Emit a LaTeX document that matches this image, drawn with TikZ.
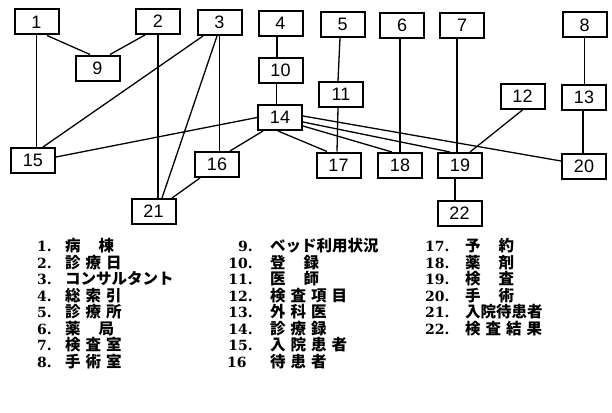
\documentclass[tikz,border=0pt]{standalone}
\usepackage{fontspec}
\setmainfont{Liberation Sans}
\newfontfamily\jp{Noto Sans CJK JP}
\newfontfamily\numf{DejaVu Serif}
\usetikzlibrary{calc}
\newcommand{\gw}{\kern18pt}
\newcommand{\gn}{\kern5pt}
\begin{document}
\begin{tikzpicture}[x=1pt,y=-1pt,
  box/.style={draw,line width=2pt,minimum width=44pt,minimum height=25pt,inner sep=0pt,font=\fontsize{18}{18}\selectfont},
  conn/.style={line width=1.3pt},
  num/.style={inner sep=0pt,font=\numf\bfseries\fontsize{14}{14}\selectfont},
  lab/.style={inner sep=0pt,anchor=base west,font=\jp\bfseries\fontsize{15.5}{15.5}\selectfont}]
\useasboundingbox (0,0) rectangle (612,412);
% boxes
\node[box] (n1) at (36.5,22) {1};
\node[box] (n2) at (158,21.5) {2};
\node[box] (n3) at (219.5,22.5) {3};
\node[box] (n4) at (280.5,23.5) {4};
\node[box] (n5) at (342.5,24.5) {5};
\node[box] (n6) at (402,25.5) {6};
\node[box] (n7) at (462,25.5) {7};
\node[box] (n8) at (584.5,25) {8};
\node[box] (n9) at (97.5,68) {9};
\node[box] (n10) at (280.5,70.5) {10};
\node[box] (n11) at (341,94.5) {11};
\node[box] (n12) at (522.5,96.5) {12};
\node[box] (n13) at (584,97) {13};
\node[box] (n14) at (280,117.5) {14};
\node[box] (n15) at (33,160.5) {15};
\node[box] (n16) at (217,164.5) {16};
\node[box] (n17) at (338.5,165) {17};
\node[box] (n18) at (400,165.5) {18};
\node[box] (n19) at (460,165.5) {19};
\node[box] (n20) at (584,166.5) {20};
\node[box] (n21) at (153.5,211.5) {21};
\node[box] (n22) at (459.5,213) {22};
% connectors
\draw[conn] (n1.south) -- (n1.south |- n15.north);
\draw[conn] ($(n1.south)+(10.5,0)$) -- ($(n9.north)+(-7.5,0)$);
\draw[conn] ($(n2.south)+(-13,0)$) -- ($(n9.north)+(12.5,0)$);
\draw[conn] (n2.south) -- (n2.south |- n21.north);
\draw[conn] ($(n3.south)+(-16.5,0)$) -- ($(n15.north)+(10,0)$);
\draw[conn] ($(n3.south)+(-2.5,0)$) -- ($(n21.north)+(8.5,0)$);
\draw[conn] (n3.south) -- (n3.south |- n16.north);
\draw[conn] ($(n16.south)+(-17,0)$) -- ($(n21.north)+(18.5,0)$);
\draw[conn] ($(n14.south)+(-17,0)$) -- ($(n16.north)+(13,0)$);
\draw[conn] (n14.west) -- ($(n15.east)+(0,-3.5)$);
\draw[conn] ($(n14.south)+(-2,0)$) -- ($(n17.north)+(-11.5,0)$);
\draw[conn] ($(n14.east)+(0,8.5)$) -- ($(n18.north)+(-8,0)$);
\draw[conn] ($(n14.east)+(0,4.5)$) -- ($(n19.north)+(-10,0)$);
\draw[conn] ($(n14.east)+(0,-1.5)$) -- ($(n20.west)+(0,-5.5)$);
\draw[conn] ($(n4.south)+(-3.5,0)$) -- ($(n10.north)+(-3.5,0)$);
\draw[conn] ($(n10.south)+(-4,0)$) -- ($(n14.north)+(-3.5,0)$);
\draw[conn] ($(n5.south)+(-2.5,0)$) -- ($(n11.north)+(-3,0)$);
\draw[conn] ($(n11.south)+(-3,0)$) -- ($(n17.north)+(-1.5,0)$);
\draw[conn] (n18.north |- n6.south) -- (n18.north);
\draw[conn] ($(n19.north)+(-3,0)$) -- ($(n7.south)+(-5,0)$);
\draw[conn] (n12.south) -- ($(n19.north)+(10,0)$);
\draw[conn] (n8.south) -- (n8.south |- n13.north);
\draw[conn] ($(n13.south)+(-1,0)$) -- ($(n20.north)+(-1,0)$);
\draw[conn] ($(n19.south)+(-5,0)$) -- ($(n22.north)+(-4.5,0)$);
% legend column 1
\node[num,anchor=base west] (k1) at (37,251.5) {1.};
\node[lab] (t1) at (65,251.5) {病\gw 棟};
\node[num,anchor=base west] (k2) at (37,268) {2.};
\node[lab] (t2) at (65,268) {診\gn 療\gn 日};
\node[num,anchor=base west] (k3) at (37,284.5) {3.};
\node[lab] (t3) at (65,284.5) {コンサルタント};
\node[num,anchor=base west] (k4) at (37,301) {4.};
\node[lab] (t4) at (65,301) {総\gn 索\gn 引};
\node[num,anchor=base west] (k5) at (37,317.5) {5.};
\node[lab] (t5) at (65,317.5) {診\gn 療\gn 所};
\node[num,anchor=base west] (k6) at (37,334) {6.};
\node[lab] (t6) at (65,334) {薬\gw 局};
\node[num,anchor=base west] (k7) at (37,350.5) {7.};
\node[lab] (t7) at (65,350.5) {検\gn 査\gn 室};
\node[num,anchor=base west] (k8) at (37,367) {8.};
\node[lab] (t8) at (65,367) {手\gn 術\gn 室};
% legend column 2
\node[num,anchor=base east] (k9) at (253,251.5) {9.};
\node[lab] (t9) at (270,251.5) {ベッド利用状況};
\node[num,anchor=base east] (k10) at (253,268) {10.};
\node[lab] (t10) at (270,268) {登\gw 録};
\node[num,anchor=base east] (k11) at (253,284.5) {11.};
\node[lab] (t11) at (270,284.5) {医\gw 師};
\node[num,anchor=base east] (k12) at (253,301) {12.};
\node[lab] (t12) at (270,301) {検\gn 査\gn 項\gn 目};
\node[num,anchor=base east] (k13) at (253,317.5) {13.};
\node[lab] (t13) at (270,317.5) {外\gn 科\gn 医};
\node[num,anchor=base east] (k14) at (253,334) {14.};
\node[lab] (t14) at (270,334) {診\gn 療\gn 録};
\node[num,anchor=base east] (k15) at (253,350.5) {15.};
\node[lab] (t15) at (270,350.5) {入\gn 院\gn 患\gn 者};
\node[num,anchor=base west] (k16) at (227,367) {16};
\node[lab] (t16) at (270,367) {待\gn 患\gn 者};
% legend column 3
\node[num,anchor=base west] (k17) at (425,251.5) {17.};
\node[lab] (t17) at (465,251.5) {予\gw 約};
\node[num,anchor=base west] (k18) at (425,268) {18.};
\node[lab] (t18) at (465,268) {薬\gw 剤};
\node[num,anchor=base west] (k19) at (425,284.5) {19.};
\node[lab] (t19) at (465,284.5) {検\gw 査};
\node[num,anchor=base west] (k20) at (425,301) {20.};
\node[lab] (t20) at (465,301) {手\gw 術};
\node[num,anchor=base west] (k21) at (425,317.5) {21.};
\node[lab] (t21) at (465,317.5) {入院待患者};
\node[num,anchor=base west] (k22) at (425,334) {22.};
\node[lab] (t22) at (465,334) {検\gn 査\gn 結\gn 果};
\end{tikzpicture}
\end{document}
